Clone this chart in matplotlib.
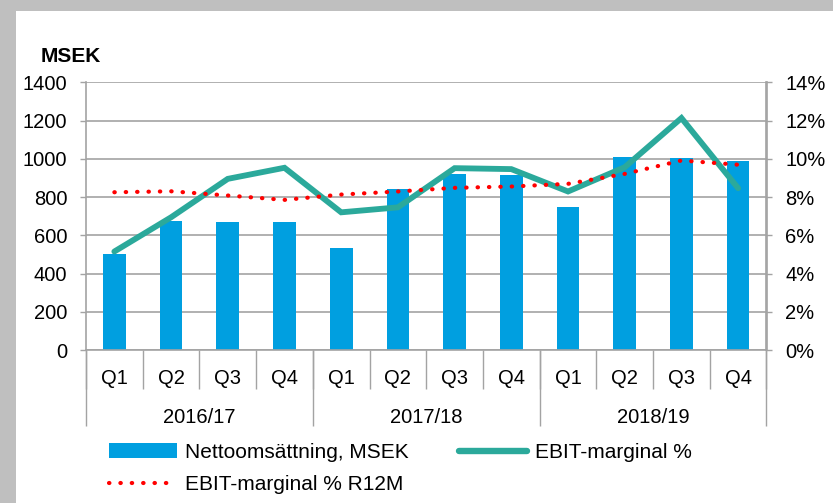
import matplotlib
matplotlib.use("Agg")
import matplotlib.pyplot as plt
import numpy as np
from matplotlib.ticker import FuncFormatter
from matplotlib.lines import Line2D
from matplotlib.patches import Patch

plt.rcParams['font.family'] = ['Liberation Sans', 'DejaVu Sans']

quarters = ['Q1', 'Q2', 'Q3', 'Q4'] * 3
years = ['2016/17', '2017/18', '2018/19']
net_sales = [500, 675, 668, 671, 533, 842, 923, 916, 748, 1008, 1003, 987]
ebit_margin = [5.15, 6.94, 8.95, 9.53, 7.20, 7.46, 9.51, 9.46, 8.29, 9.56, 12.13, 8.46]
ebit_r12m = [8.25, 8.30, 8.08, 7.85, 8.13, 8.29, 8.48, 8.55, 8.69, 9.21, 9.91, 9.69]

BLUE = '#009FE0'
TEAL = '#2BA99B'
RED = '#FF0000'
GRID = '#A3A3A3'
FS = 14.5
LFS = 15

W, H = 833, 503
fig = plt.figure(figsize=(W / 100, H / 100), dpi=100)
fig.patch.set_facecolor('white')
# gray frame at top and left
fig.add_artist(plt.Rectangle((0, 1 - 11 / H), 1, 11 / H, transform=fig.transFigure, color='#BFBFBF', lw=0))
fig.add_artist(plt.Rectangle((0, 0), 16 / W, 1, transform=fig.transFigure, color='#BFBFBF', lw=0))

L, R, B, T = 86, 766.5, 350, 82.3
ax = fig.add_axes([L / W, 1 - B / H, (R - L) / W, (B - T) / H])
x = np.arange(len(net_sales))
ax.bar(x, net_sales, width=0.4, color=BLUE, zorder=2)
ax.set_xlim(-0.5, len(x) - 0.5)
ax.set_ylim(0, 1400)
ax.set_yticks(np.arange(0, 1401, 200))
ax.yaxis.grid(True, color=GRID, lw=1.2, zorder=0)
ax.set_axisbelow(True)
ax.spines['top'].set_visible(False)
for s in ['left', 'right', 'bottom']:
    ax.spines[s].set_color(GRID)
    ax.spines[s].set_linewidth(1.2)
ax.tick_params(axis='y', colors=GRID, labelcolor='black', labelsize=FS, length=4.5, width=1, pad=9)

# quarter labels
ax.set_xticks(x)
ax.set_xticklabels(quarters, fontsize=FS)
ax.tick_params(axis='x', which='major', length=0, pad=14, labelcolor='black')
bounds = np.arange(-0.5, len(x), 1.0)
ax.set_xticks(bounds, minor=True)
ax.tick_params(axis='x', which='minor', length=28, width=1, color=GRID, direction='out')

# year group lines and labels
gb = np.arange(-0.5, len(x), 4.0)
sec = ax.secondary_xaxis('bottom')
sec.set_xticks(gb)
sec.set_xticklabels([''] * len(gb))
sec.tick_params(length=55, width=1, color=GRID, direction='out')
sec.spines['bottom'].set_visible(False)
sec2 = ax.secondary_xaxis('bottom')
sec2.set_xticks(np.arange(1.5, len(x), 4.0))
sec2.set_xticklabels(years, fontsize=FS)
sec2.tick_params(length=0, pad=42)
sec2.spines['bottom'].set_visible(False)

ax2 = ax.twinx()
ax2.set_ylim(0, 14)
ax2.set_yticks(np.arange(0, 15, 2))
ax2.yaxis.set_major_formatter(FuncFormatter(lambda v, p: f'{v:.0f}%'))
ax2.tick_params(axis='y', colors=GRID, labelcolor='black', labelsize=FS, length=4.5, width=1, pad=9)
for s in ['top', 'left', 'bottom']:
    ax2.spines[s].set_visible(False)
ax2.spines['right'].set_color(GRID)
ax2.spines['right'].set_linewidth(1.2)
ax2.plot(x, ebit_margin, color=TEAL, lw=4.2, solid_capstyle='round', solid_joinstyle='miter', zorder=3)
ax2.plot(x, ebit_r12m, color=RED, lw=3.0, linestyle=(0, (0.1, 2.63)), dash_capstyle='round', zorder=4)

fig.text(41 / W, 1 - 57 / H, 'MSEK', fontsize=15, fontweight='bold', va='center', ha='left')

handles = [Patch(facecolor=BLUE, edgecolor='none'),
           Line2D([], [], color=RED, lw=3.0, linestyle=(0, (0.1, 2.63)), dash_capstyle='round'),
           Line2D([], [], color=TEAL, lw=4.6, solid_capstyle='round')]
labels = ['Nettoomsättning, MSEK', 'EBIT-marginal % R12M', 'EBIT-marginal %']
fig.legend(handles, labels, loc='upper left', bbox_to_anchor=(109 / W, 1 - 443 / H), ncol=2,
           frameon=False, fontsize=LFS, handlelength=3.27, handletextpad=0.38, columnspacing=2.4,
           labelspacing=0.62, borderaxespad=0, borderpad=0)

fig.savefig('out.png', dpi=100, facecolor='white')
